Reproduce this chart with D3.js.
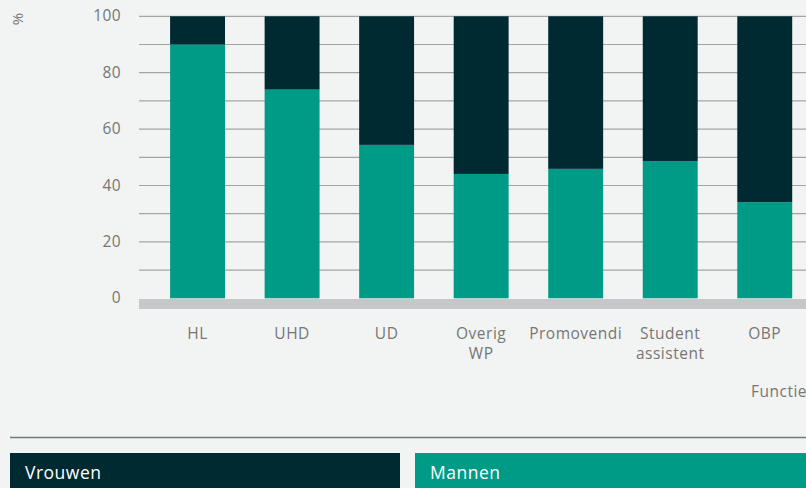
<!DOCTYPE html>
<html>
<head>
<meta charset="utf-8">
<script src="https://cdn.jsdelivr.net/npm/d3@7"></script>
<style>
  body { margin: 0; background: #f2f4f3; overflow: hidden; }
  svg { display: block; font-family: "Open Sans", Lato, sans-serif; }
</style>
</head>
<body>
<script>
const functies = ["HL", "UHD", "UD", "Overig WP", "Promovendi", "Student assistent", "OBP"];
const mannen = [90, 74, 54.4, 44.1, 45.9, 48.7, 34.1];
const vrouwen = [10, 26, 45.6, 55.9, 54.1, 51.3, 65.9];
const yTicks = [0, 20, 40, 60, 80, 100];

const W = 806, H = 488;
const svg = d3.select("body").append("svg")
    .attr("width", W)
    .attr("height", H);

const y = d3.scaleLinear().domain([0, 100]).range([298.3, 16.3]);
const x = d3.scaleBand()
    .domain(functies)
    .range([150.3, 812.0])
    .paddingInner(0.419)
    .paddingOuter(0.2094);

// gridlines every 10
svg.append("g")
    .selectAll("line")
    .data(d3.range(10, 101, 10))
    .join("line")
    .attr("x1", 139).attr("x2", W)
    .attr("y1", d => y(d)).attr("y2", d => y(d))
    .attr("stroke", "#a3a5a5")
    .attr("stroke-width", 1.2);

// y tick labels
svg.append("g")
    .selectAll("text")
    .data(yTicks)
    .join("text")
    .attr("x", 121)
    .attr("y", d => y(d) + 5)
    .attr("text-anchor", "end")
    .attr("fill", "#767676")
    .attr("font-size", 15.5)
    .attr("letter-spacing", 0.4)
    .text(d => d);

svg.append("text")
    .attr("transform", "translate(23,19) rotate(-90)")
    .attr("text-anchor", "middle")
    .attr("fill", "#767676")
    .attr("font-size", 15)
    .text("%");

// stacked bars
const rows = functies.map((f, i) => ({f, m: mannen[i], v: vrouwen[i]}));
const series = d3.stack().keys(["m", "v"])(rows);
const colors = {m: "#009b87", v: "#002a32"};

svg.append("g")
    .selectAll("g")
    .data(series)
    .join("g")
    .attr("fill", s => colors[s.key])
    .selectAll("rect")
    .data(s => s)
    .join("rect")
    .attr("x", d => x(d.data.f))
    .attr("width", x.bandwidth())
    .attr("y", d => y(d[1]))
    .attr("height", d => y(d[0]) - y(d[1]));

// baseline band
svg.append("rect")
    .attr("x", 139).attr("y", y(0) + 0.7)
    .attr("width", W - 139).attr("height", 10)
    .attr("fill", "#c6c7c8");

// category labels
const lbl = svg.append("g")
    .selectAll("text")
    .data(functies)
    .join("text")
    .attr("x", d => x(d) + x.bandwidth() / 2)
    .attr("y", 339)
    .attr("text-anchor", "middle")
    .attr("fill", "#767676")
    .attr("font-size", 15.5)
    .attr("letter-spacing", 0.5);
lbl.selectAll("tspan")
    .data(d => d === "Promovendi" ? [d] : d.split(" "))
    .join("tspan")
    .attr("x", function () { return d3.select(this.parentNode).attr("x"); })
    .attr("dy", (d, i) => i ? 20 : 0)
    .text(d => d);

svg.append("text")
    .attr("x", 751).attr("y", 397)
    .attr("fill", "#767676")
    .attr("font-size", 15.5)
    .attr("letter-spacing", 0.5)
    .text("Functie");

// separator and legend
svg.append("line")
    .attr("x1", 10).attr("x2", W)
    .attr("y1", 437.5).attr("y2", 437.5)
    .attr("stroke", "#6c7c82")
    .attr("stroke-width", 1.5);

const legend = [
    {name: "Vrouwen", key: "v", x0: 10, x1: 400},
    {name: "Mannen", key: "m", x0: 415, x1: W}
];
const lg = svg.append("g").selectAll("g").data(legend).join("g");
lg.append("rect")
    .attr("x", d => d.x0).attr("y", 453)
    .attr("width", d => d.x1 - d.x0).attr("height", 40)
    .attr("fill", d => colors[d.key]);
lg.append("text")
    .attr("x", d => d.x0 + 15).attr("y", 479)
    .attr("fill", "#ffffff")
    .attr("font-size", 17.5)
    .attr("letter-spacing", 0.5)
    .text(d => d.name);
</script>
</body>
</html>
